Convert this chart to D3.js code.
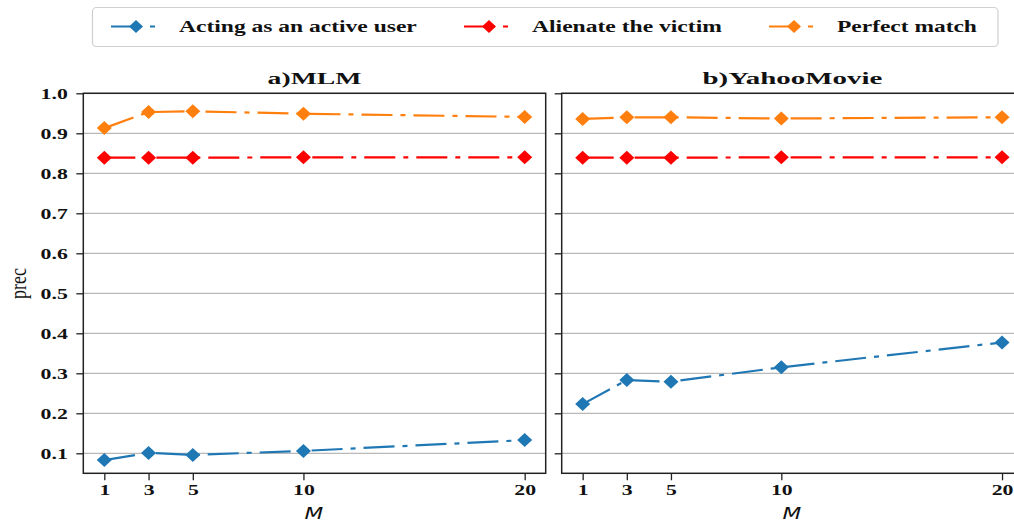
<!DOCTYPE html>
<html>
<head>
<meta charset="utf-8">
<script src="https://cdn.jsdelivr.net/npm/d3@7"></script>
<style>
  html, body { margin: 0; padding: 0; background: #fff; }
  svg { display: block; }
</style>
</head>
<body>
<svg id="chart" width="1014" height="523"></svg>
<script>
// ---------------- data ----------------
const M = [1, 3, 5, 10, 20];
const xTicks = [1, 3, 5, 10, 20];
const yTicks = [0.1, 0.2, 0.3, 0.4, 0.5, 0.6, 0.7, 0.8, 0.9, 1.0];
const seriesNames = ["Acting as an active user", "Alienate the victim", "Perfect match"];
const seriesColors = ["#1f77b4", "#ff0000", "#ff7f0e"];
const panelTitles = ["a)MLM", "b)YahooMovie"];

const mlmActive    = [0.083, 0.101, 0.096, 0.106, 0.133];
const mlmAlienate  = [0.839, 0.839, 0.839, 0.840, 0.840];
const mlmPerfect   = [0.913, 0.953, 0.955, 0.949, 0.941];

const yahooActive   = [0.223, 0.283, 0.279, 0.315, 0.377];
const yahooAlienate = [0.839, 0.839, 0.839, 0.840, 0.840];
const yahooPerfect  = [0.936, 0.940, 0.940, 0.937, 0.940];

const panels = [
  { title: panelTitles[0], series: [mlmActive, mlmAlienate, mlmPerfect], range: [83.3, 545.7], labels: true },
  { title: panelTitles[1], series: [yahooActive, yahooAlienate, yahooPerfect], range: [561.7, 1023], labels: false }
];

// ---------------- style ----------------
const SX = 1.45;               // horizontal stretch of the original figure
const SERIF = "'Liberation Serif', 'Times New Roman', serif";
const DASH = "31,8,5,8";
const LW = 2.2;

const svg = d3.select("#chart");
const y = d3.scaleLinear().domain([0.05, 1.0]).range([473.3, 93.3]);

function diamond(g, cx, cy, color, hw, hh) {
  g.append("path")
    .attr("d", `M${cx - hw},${cy} L${cx},${cy - hh} L${cx + hw},${cy} L${cx},${cy + hh} Z`)
    .attr("fill", color);
}

panels.forEach((p, pi) => {
  const x = d3.scaleLinear().domain([0.05, 20.95]).range(p.range);
  const g = svg.append("g");

  // grid
  g.append("g").selectAll("line").data(yTicks).join("line")
    .attr("x1", p.range[0]).attr("x2", p.range[1])
    .attr("y1", d => y(d)).attr("y2", d => y(d))
    .attr("stroke", "#b8b8b8").attr("stroke-width", 1.2);

  // lines + markers
  p.series.forEach((vals, si) => {
    const pts = M.map((m, i) => [x(m), y(vals[i])]);
    g.append("path")
      .attr("d", d3.line()(pts))
      .attr("fill", "none")
      .attr("stroke", seriesColors[si])
      .attr("stroke-width", LW)
      .attr("stroke-dasharray", DASH);
    pts.forEach(pt => diamond(g, pt[0], pt[1], seriesColors[si], 7.5, 7));
  });

  // axes
  const yAx = g.append("g")
    .attr("transform", `translate(${p.range[0]},0)`)
    .call(d3.axisLeft(y).tickValues(yTicks).tickSize(7).tickFormat(d3.format(".1f")));
  const xAx = g.append("g")
    .attr("transform", `translate(0,${y.range()[0]})`)
    .call(d3.axisBottom(x).tickValues(xTicks).tickSize(7).tickPadding(4.5));

  [yAx, xAx].forEach(ax => {
    ax.select(".domain").remove();
    ax.selectAll(".tick line").attr("stroke", "#222").attr("stroke-width", 1.3);
    ax.selectAll("text")
      .attr("fill", "#111")
      .style("font-family", SERIF)
      .style("font-weight", "bold")
      .style("font-size", "15px");
  });
  if (p.labels) {
    yAx.selectAll("text").attr("x", -15.5 / SX).attr("transform", `scale(${SX},1)`);
  } else {
    yAx.selectAll("text").remove();
  }
  xAx.selectAll("text").attr("transform", `scale(${SX},1)`);

  // frame
  g.append("rect")
    .attr("x", p.range[0]).attr("y", y.range()[1])
    .attr("width", p.range[1] - p.range[0])
    .attr("height", y.range()[0] - y.range()[1])
    .attr("fill", "none").attr("stroke", "#222").attr("stroke-width", 1.5);

  // title
  const cx = (p.range[0] + p.range[1]) / 2;
  const tg = g.append("g").attr("transform", `translate(${cx},83.6)`);
  const tt = tg.append("text")
    .attr("text-anchor", "middle")
    .style("font-family", SERIF).style("font-weight", "bold").style("font-size", "16.5px")
    .attr("fill", "#111")
    .text(p.title);
  const targetW = pi === 0 ? 94 : 180;
  const nat = tt.node().getComputedTextLength();
  tg.attr("transform", `translate(${cx},83.6) scale(${targetW / nat},1)`);

  // x label
  svg.append("g").attr("transform", `translate(${cx - 0.5},518.5) scale(${SX},1)`)
    .append("text")
    .attr("text-anchor", "middle")
    .style("font-family", "'DejaVu Sans', sans-serif").style("font-style", "italic")
    .style("font-size", "15px").attr("fill", "#111")
    .text("M");
});

// y label
svg.append("g").attr("transform", `translate(26,283.5) scale(1.3,1) rotate(-90)`)
  .append("text")
  .attr("text-anchor", "middle")
  .style("font-family", SERIF).style("font-size", "18px").attr("fill", "#111")
  .text("prec");

// ---------------- legend ----------------
const lg = svg.append("g");
lg.append("rect")
  .attr("x", 92.5).attr("y", 7.5).attr("width", 905.5).attr("height", 39)
  .attr("rx", 4).attr("fill", "#fff").attr("stroke", "#d0d0d0").attr("stroke-width", 1.2);

const legendDiamondX = [136, 489, 794];
const legendTextW = [238, 190, 140];
seriesNames.forEach((name, i) => {
  const dx = legendDiamondX[i];
  lg.append("line")
    .attr("x1", dx - 25).attr("x2", dx + 24)
    .attr("y1", 26.5).attr("y2", 26.5)
    .attr("stroke", seriesColors[i]).attr("stroke-width", LW)
    .attr("stroke-dasharray", DASH);
  diamond(lg, dx, 26.5, seriesColors[i], 7, 6.5);
  const tgrp = lg.append("g").attr("transform", `translate(${dx + 43},31.7)`);
  const t = tgrp.append("text")
    .style("font-family", SERIF).style("font-weight", "bold").style("font-size", "16.5px")
    .attr("fill", "#111")
    .text(name);
  const w = t.node().getComputedTextLength();
  tgrp.attr("transform", `translate(${dx + 43},31.7) scale(${legendTextW[i] / w},1)`);
});
</script>
</body>
</html>
